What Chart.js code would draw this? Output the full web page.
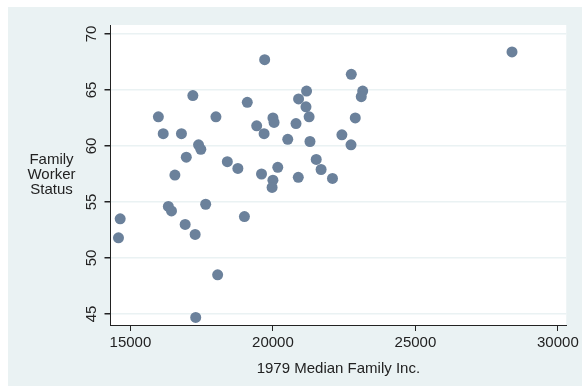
<!DOCTYPE html>
<html>
<head>
<meta charset="utf-8">
<script src="https://cdn.jsdelivr.net/npm/chart.js@4.4.1/dist/chart.umd.min.js"></script>
<style>
  html, body { margin: 0; padding: 0; background: #fff; }
  #wrap { width: 582px; height: 386px; }
</style>
</head>
<body>
<div id="wrap"><canvas id="grafico" width="582" height="386"></canvas></div>
<script>
// 1979 median family income (x) vs family worker status (y), one point per state
const medianIncome = [
  19710, 17190, 15980, 18000, 19100, 16150, 16790, 17390, 17470, 16960,
  19430, 19690, 20000, 20040, 20900, 21180, 21160, 21270, 20810, 20520,
  21300, 18400, 18770, 20170, 21520, 21690, 16560, 19600, 22090, 20890,
  20000, 19970, 28390, 22750, 23150, 23100, 22890, 22420, 22740, 14640,
  14580, 16330, 16440, 16920, 17270, 17640, 19000, 18060, 17290
];
const workerStatus = [
  67.7, 64.5, 62.6, 62.6, 63.9, 61.1, 61.1, 60.1, 59.7, 59.0,
  61.8, 61.1, 62.5, 62.1, 64.2, 64.9, 63.5, 62.6, 62.0, 60.6,
  60.4, 58.6, 58.0, 58.1, 58.8, 57.9, 57.4, 57.5, 57.1, 57.2,
  56.95, 56.3, 68.4, 66.4, 64.9, 64.4, 62.5, 61.0, 60.1, 53.5,
  51.8, 54.6, 54.2, 53.0, 52.1, 54.8, 53.7, 48.5, 44.7
];
const xTicks = [15000, 20000, 25000, 30000];
const yTicks = [45, 50, 55, 60, 65, 70];
const yTitle = ["Family", "Worker", "Status"];
const xTitle = "1979 Median Family Inc.";

const FONTE = '"Liberation Sans", Arial, Helvetica, sans-serif';
const FUNDO = "#eaf2f3";
const TEXTO = "#222";

Chart.defaults.font.family = FONTE;
Chart.defaults.font.size = 15;
Chart.defaults.color = TEXTO;

const pontos = medianIncome.map((x, i) => ({ x: x, y: workerStatus[i] }));

const fundoPlugin = {
  id: "fundo",
  beforeDraw(chart) {
    const ctx = chart.ctx;
    const a = chart.chartArea;
    ctx.save();
    ctx.fillStyle = "#fff";
    ctx.fillRect(0, 0, chart.width, chart.height);
    ctx.fillStyle = FUNDO;
    ctx.fillRect(8, 7, chart.width - 8, chart.height - 7);
    ctx.fillStyle = "#fff";
    ctx.fillRect(a.left, a.top, a.right - a.left, a.bottom - a.top);
    ctx.restore();
  }
};

// y tick labels are rotated (read bottom to top) and the y title sits horizontally
const rotulosPlugin = {
  id: "rotulos",
  afterDraw(chart) {
    const ctx = chart.ctx;
    const y = chart.scales.y;
    ctx.save();
    ctx.fillStyle = TEXTO;
    ctx.font = "15px " + FONTE;
    yTicks.forEach(v => {
      const py = y.getPixelForValue(v);
      ctx.save();
      ctx.translate(96, py);
      ctx.rotate(-Math.PI / 2);
      ctx.textAlign = "center";
      ctx.textBaseline = "alphabetic";
      ctx.fillText(String(v), 0, 0);
      ctx.restore();
    });
    const meio = (chart.chartArea.top + chart.chartArea.bottom) / 2;
    ctx.textAlign = "center";
    ctx.textBaseline = "middle";
    yTitle.forEach((linha, i) => {
      ctx.fillText(linha, 51.5, meio + (i - 1) * 15);
    });
    ctx.restore();
  }
};

new Chart(document.getElementById("grafico").getContext("2d"), {
  type: "scatter",
  data: {
    datasets: [{
      data: pontos,
      backgroundColor: "#6b819b",
      borderColor: "#6b819b",
      borderWidth: 0,
      pointRadius: 5.5,
      pointHoverRadius: 5.5
    }]
  },
  options: {
    responsive: false,
    animation: false,
    events: [],
    layout: { padding: { top: 25, right: 14, left: 0, bottom: 0 } },
    plugins: {
      legend: { display: false },
      tooltip: { enabled: false }
    },
    scales: {
      x: {
        type: "linear",
        min: 14300,
        max: 30294,
        afterBuildTicks: s => { s.ticks = xTicks.map(v => ({ value: v })); },
        afterFit: s => { s.height = 61; },
        border: { color: TEXTO, width: 1 },
        grid: { drawOnChartArea: false, tickColor: TEXTO, tickLength: 6 },
        ticks: { padding: 3, maxRotation: 0, callback: v => String(v) },
        title: { display: true, text: xTitle, padding: { top: 8, bottom: 8 } }
      },
      y: {
        type: "linear",
        min: 44.02,
        max: 70.8,
        afterBuildTicks: s => { s.ticks = yTicks.map(v => ({ value: v })); },
        afterFit: s => { s.width = 110.5; },
        border: { color: TEXTO, width: 1 },
        grid: { color: FUNDO, lineWidth: 1.5, tickColor: TEXTO, tickLength: 6 },
        ticks: { display: false }
      }
    }
  },
  plugins: [fundoPlugin, rotulosPlugin]
});
</script>
</body>
</html>
